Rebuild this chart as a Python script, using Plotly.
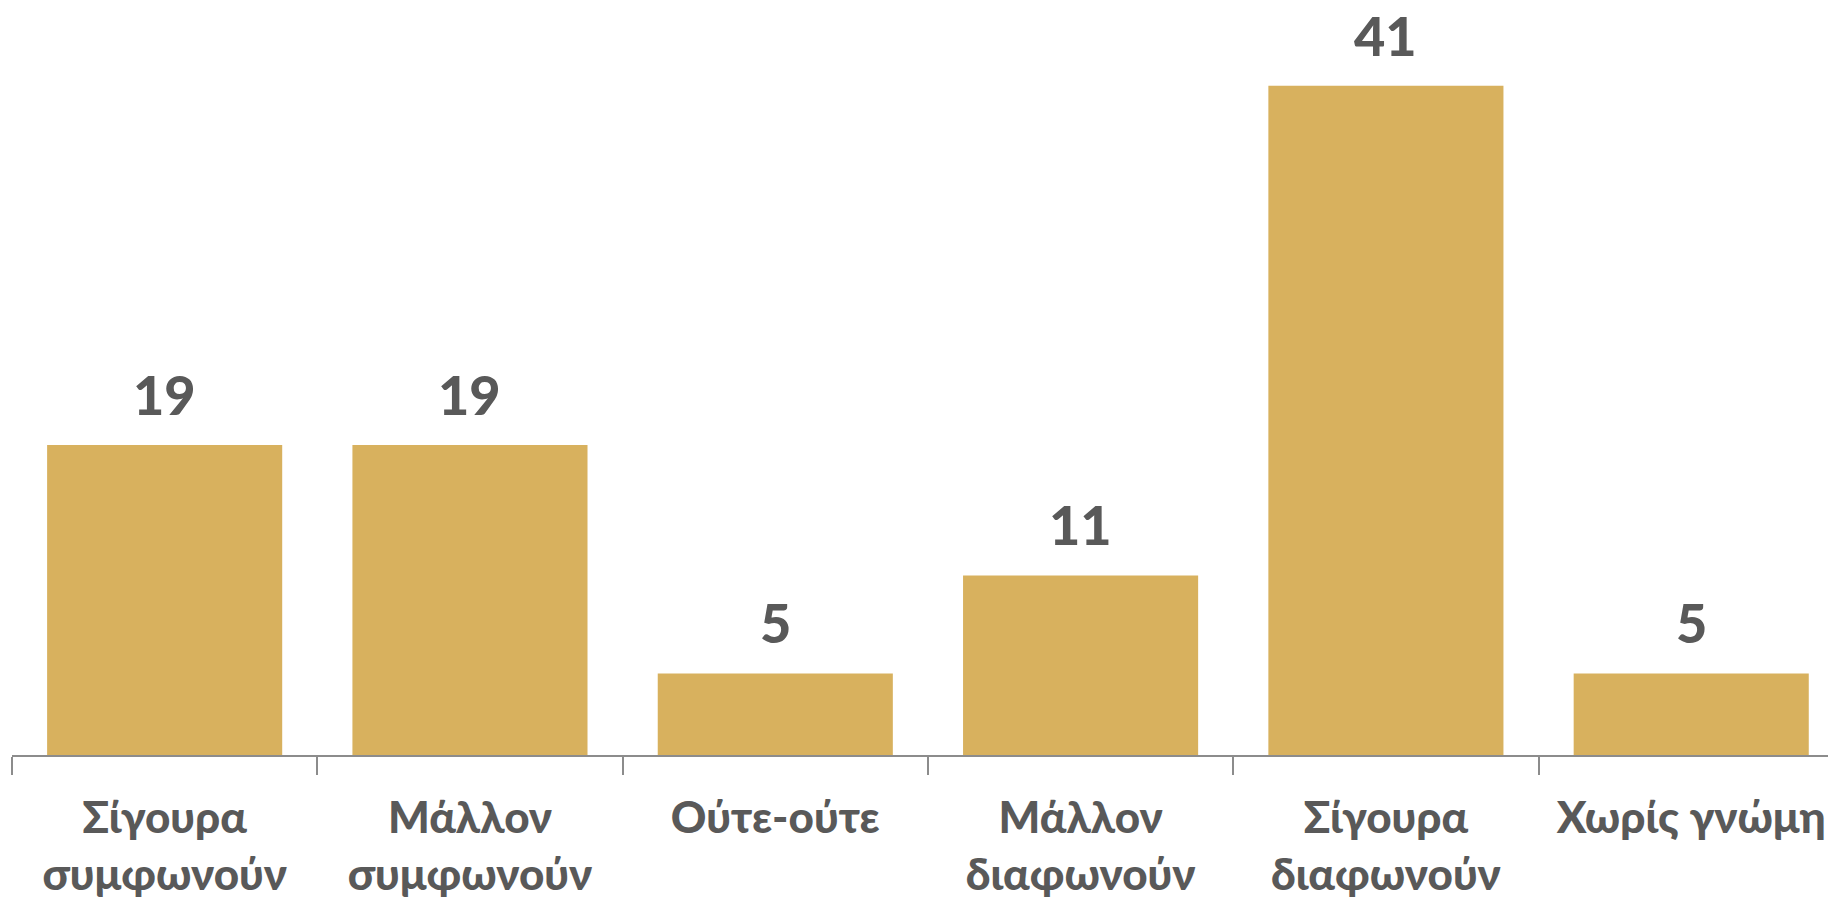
import plotly.graph_objects as go

categories = ["Σίγουρα συμφωνούν", "Μάλλον συμφωνούν", "Ούτε-ούτε",
              "Μάλλον διαφωνούν", "Σίγουρα διαφωνούν", "Χωρίς γνώμη"]
tick_labels = ["Σίγουρα<br>συμφωνούν", "Μάλλον<br>συμφωνούν", "Ούτε-ούτε",
               "Μάλλον<br>διαφωνούν", "Σίγουρα<br>διαφωνούν", "Χωρίς γνώμη"]
values = [19, 19, 5, 11, 41, 5]

BAR = "#D8B15E"
TXT = "#595959"
FONT = "Lato, 'Open Sans', sans-serif"

fig = go.Figure(go.Bar(
    x=categories, y=values, marker_color=BAR, marker_line_width=0,
    hoverinfo="skip"))

for c, v in zip(categories, values):
    fig.add_annotation(x=c, y=v, text=str(v), showarrow=False,
                       yanchor="bottom", yshift=16,
                       font=dict(family=FONT, size=54, color=TXT, weight=900))

fig.update_layout(
    width=1828, height=897,
    margin=dict(l=12, r=0, t=0, b=142),
    paper_bgcolor="white", plot_bgcolor="white",
    bargap=0.23, showlegend=False,
    font=dict(family=FONT, color=TXT),
)
fig.update_xaxes(
    range=[-0.5, 5.448], tickmode="array", tickvals=categories, ticktext=tick_labels,
    tickson="boundaries", ticks="outside", ticklen=18, tickwidth=1.5, tickcolor="#8C8C8C",
    showline=True, linecolor="#8C8C8C", linewidth=1.5, showgrid=False,
    tickfont=dict(family=FONT, size=44, color=TXT, weight=900),
    ticklabelstandoff=23,
    automargin=False, fixedrange=True,
)
fig.update_yaxes(range=[0, 46.26], visible=False, showgrid=False, fixedrange=True)

fig.write_html("out.html", config={"displayModeBar": False},
               post_script="document.body.style.margin='0';document.body.style.overflow='hidden';")
